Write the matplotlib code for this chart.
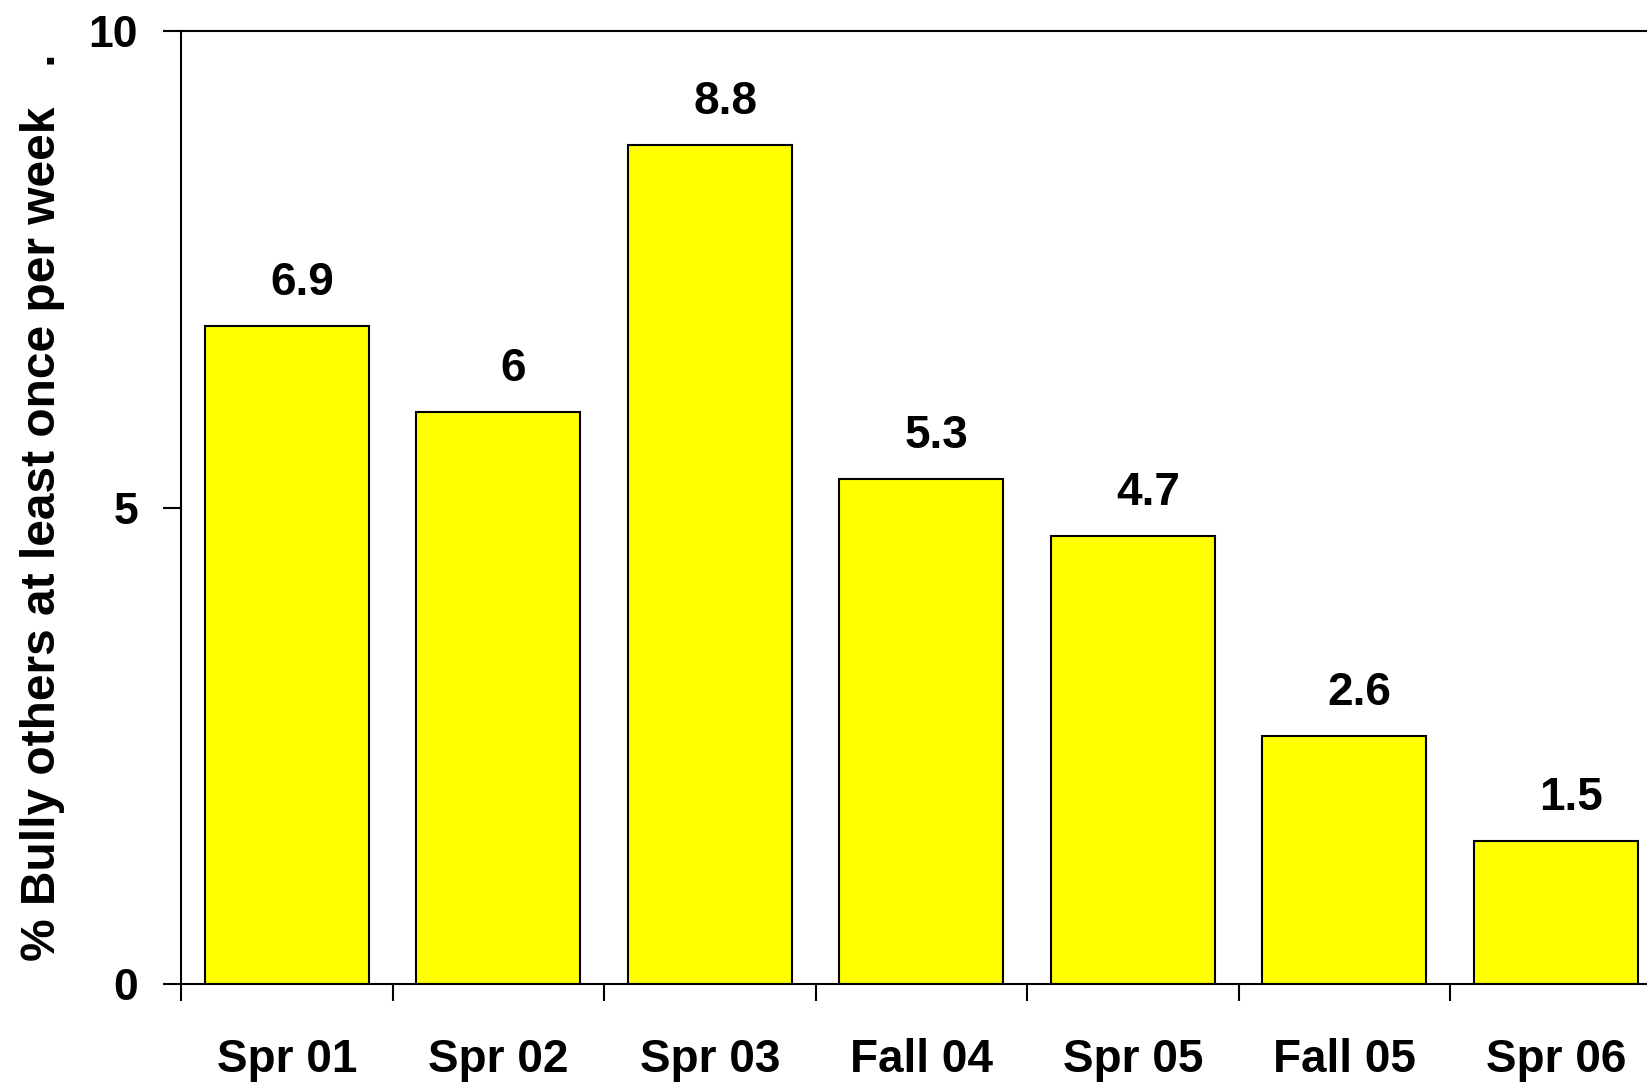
import matplotlib.pyplot as plt
from matplotlib.ticker import FixedLocator

categories = ['Spr 01', 'Spr 02', 'Spr 03', 'Fall 04', 'Spr 05', 'Fall 05', 'Spr 06']
values = [6.9, 6, 8.8, 5.3, 4.7, 2.6, 1.5]
value_labels = ['6.9', '6', '8.8', '5.3', '4.7', '2.6', '1.5']
y_ticks = [0, 5, 10]

plt.rcParams['font.family'] = 'Liberation Sans'
plt.rcParams['font.weight'] = 'bold'

fig = plt.figure(figsize=(16.47, 10.85), dpi=100)
ax = fig.add_axes([0.1099, 0.0931, 0.899, 0.8783])

x = list(range(len(categories)))
bars = ax.bar(x, values, width=0.775, color='#ffff00', edgecolor='black', linewidth=1.5)

# Excel puts the data labels a little right of the bar centre
for xi, v, lab in zip(x, values, value_labels):
    ax.annotate(lab, (xi, v), xytext=(11, 31), textcoords='offset points',
                ha='center', va='center', fontsize=33, fontweight='bold')

ax.set_xlim(-0.5, len(categories) - 0.5)
ax.set_ylim(0, 10)

ax.set_xticks(x)
ax.set_xticklabels(categories, fontsize=33, fontweight='bold')
ax.xaxis.set_minor_locator(FixedLocator([i - 0.5 for i in range(len(categories) + 1)]))
ax.tick_params(axis='x', which='major', length=0, pad=39)
ax.tick_params(axis='x', which='minor', length=12, width=1.5, direction='out')

ax.set_yticks(y_ticks)
ax.set_yticklabels([str(t) for t in y_ticks], fontsize=32, fontweight='bold')
ax.tick_params(axis='y', length=13, width=1.5, direction='out', pad=18)

ax.set_ylabel('% Bully others at least once per week   .', fontsize=34.5, fontweight='bold', labelpad=17)

for s in ['left', 'bottom', 'top']:
    ax.spines[s].set_linewidth(1.5)
ax.spines['right'].set_visible(False)

fig.savefig('out.png', dpi=100)
